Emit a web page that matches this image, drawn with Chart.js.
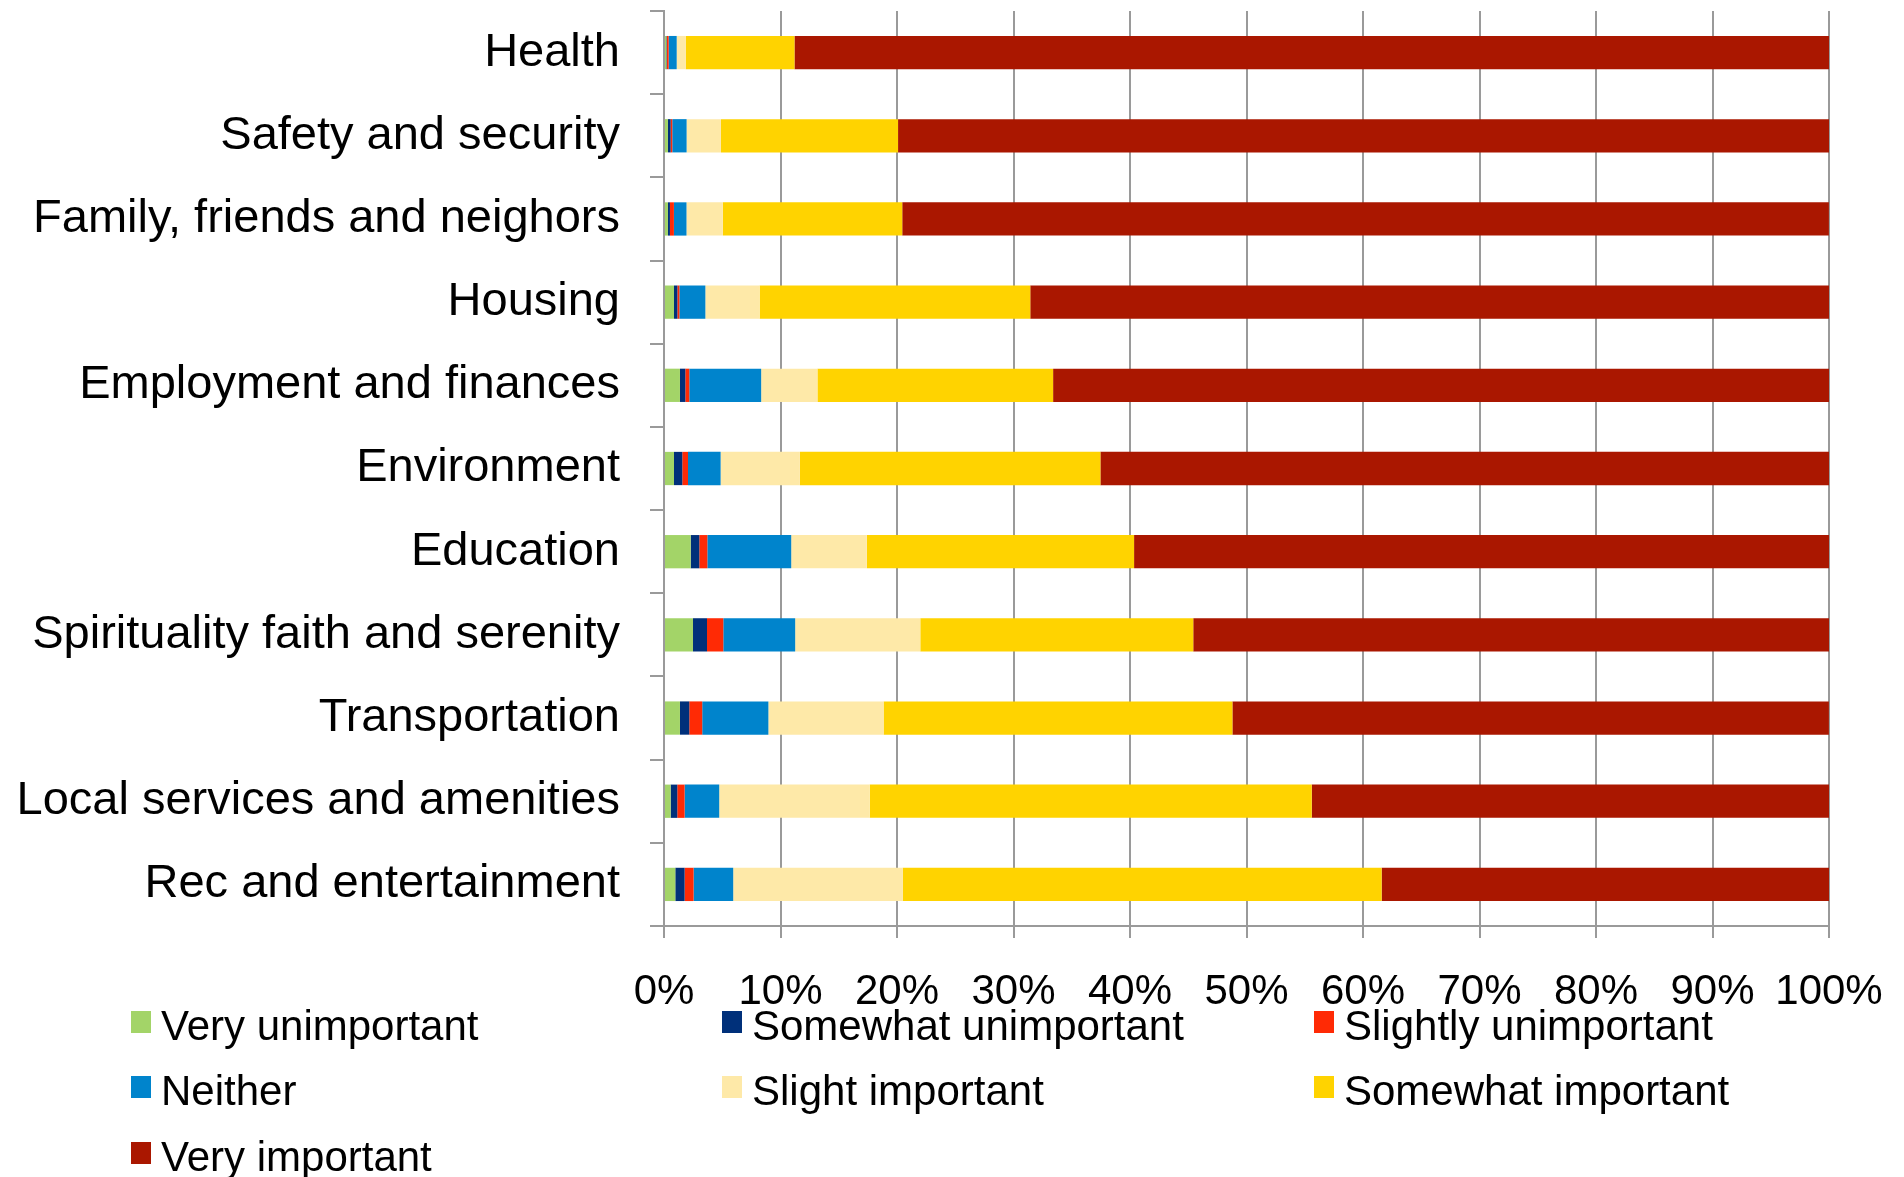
<!DOCTYPE html>
<html>
<head>
<meta charset="utf-8">
<script src="https://cdn.jsdelivr.net/npm/chart.js@4.4.1/dist/chart.umd.min.js"></script>
<style>
  body { margin: 0; background: #fff; }
  #wrap { position: relative; width: 1904px; height: 1177px; }
  #legend { position: absolute; left: 0; top: 0; width: 1904px; height: 1177px; pointer-events: none; }
  .item { position: absolute; font-family: "Liberation Sans", Arial, sans-serif; font-size: 42px; line-height: 1; color: #000; white-space: nowrap; }
  .box { position: absolute; width: 20px; height: 22px; }
</style>
</head>
<body>
<div id="wrap">
  <canvas id="barChart" width="1904" height="1177"></canvas>
  <div id="legend"></div>
</div>
<script>
const categories = ['Health', 'Safety and security', 'Family, friends and neighors', 'Housing',
  'Employment and finances', 'Environment', 'Education', 'Spirituality faith and serenity',
  'Transportation', 'Local services and amenities', 'Rec and entertainment'];

// percent of answers per category
const veryUnimportant     = [0.2, 0.34, 0.34, 0.86, 1.37, 0.86, 2.29, 2.49, 1.37, 0.57, 0.97];
const somewhatUnimportant = [0.05, 0.23, 0.17, 0.29, 0.46, 0.71, 0.74, 1.2, 0.8, 0.57, 0.8];
const slightlyUnimportant = [0.15, 0.14, 0.34, 0.17, 0.34, 0.49, 0.69, 1.4, 1.11, 0.63, 0.77];
const neither             = [0.69, 1.23, 1.08, 2.23, 6.17, 2.8, 7.2, 6.17, 5.68, 2.97, 3.4];
const slightImportant     = [0.77, 2.95, 3.12, 4.66, 4.83, 6.8, 6.49, 10.74, 9.89, 12.92, 14.55];
const somewhatImportant   = [9.34, 15.2, 15.4, 23.23, 20.23, 25.8, 22.94, 23.43, 29.94, 37.94, 41.11];
const veryImportant       = [88.8, 79.91, 79.54, 68.57, 66.6, 62.54, 59.66, 54.57, 51.2, 44.4, 38.4];

const xTicks = [0, 10, 20, 30, 40, 50, 60, 70, 80, 90, 100];

const fonte = '"Liberation Sans", Arial, sans-serif';

const series = [
  { label: 'Very unimportant', data: veryUnimportant, color: '#A3D468' },
  { label: 'Somewhat unimportant', data: somewhatUnimportant, color: '#00307A' },
  { label: 'Slightly unimportant', data: slightlyUnimportant, color: '#FF2A05' },
  { label: 'Neither', data: neither, color: '#0084CC' },
  { label: 'Slight important', data: slightImportant, color: '#FEE9A8' },
  { label: 'Somewhat important', data: somewhatImportant, color: '#FFD300' },
  { label: 'Very important', data: veryImportant, color: '#AA1700' }
];

const chart = new Chart(document.getElementById('barChart'), {
  type: 'bar',
  data: {
    labels: categories,
    datasets: series.map(function (s) {
      return {
        label: s.label,
        data: s.data,
        backgroundColor: s.color,
        borderWidth: 0,
        barPercentage: 0.4,
        categoryPercentage: 1
      };
    })
  },
  options: {
    indexAxis: 'y',
    responsive: false,
    animation: false,
    layout: { padding: { top: 11, right: 75, bottom: 159, left: 0 } },
    scales: {
      x: {
        stacked: true,
        min: 0,
        max: 100,
        afterBuildTicks: function (scale) {
          scale.ticks = xTicks.map(function (v) { return { value: v }; });
        },
        afterFit: function (scale) {
          scale.height = 92;
          scale.paddingLeft = 0;
          scale.paddingRight = 0;
        },
        border: { color: '#9a9a9a', width: 2 },
        grid: { color: '#9a9a9a', lineWidth: 2, tickLength: 12 },
        ticks: {
          color: '#000',
          padding: 29,
          maxRotation: 0,
          font: { family: fonte, size: 42 },
          callback: function (v) { return v + '%'; }
        }
      },
      y: {
        stacked: true,
        afterFit: function (scale) {
          // keep the label padding from pushing the plot down
          scale.width = 664;
          scale.paddingTop = 0;
          scale.paddingBottom = 0;
        },
        border: { color: '#9a9a9a', width: 2 },
        grid: { offset: true, drawOnChartArea: false, color: '#9a9a9a', lineWidth: 2, tickLength: 14 },
        ticks: {
          color: '#000',
          padding: 30,
          font: { family: fonte, size: 47 }
        }
      }
    },
    plugins: {
      legend: { display: false },
      tooltip: { enabled: false }
    }
  }
});

// legend in three columns under the axis
function legenda() {
  const colX = [131, 722, 1314];
  const rowY = [1011, 1076, 1142];
  const box = document.getElementById('legend');
  chart.data.datasets.forEach(function (ds, i) {
    const x = colX[i % 3];
    const y = rowY[Math.floor(i / 3)];
    const q = document.createElement('div');
    q.className = 'box';
    q.style.left = x + 'px';
    q.style.top = y + 'px';
    q.style.background = ds.backgroundColor;
    box.appendChild(q);
    const t = document.createElement('div');
    t.className = 'item';
    t.style.left = (x + 30) + 'px';
    t.style.top = (y - 6) + 'px';
    t.textContent = ds.label;
    box.appendChild(t);
  });
}
legenda();
</script>
</body>
</html>
